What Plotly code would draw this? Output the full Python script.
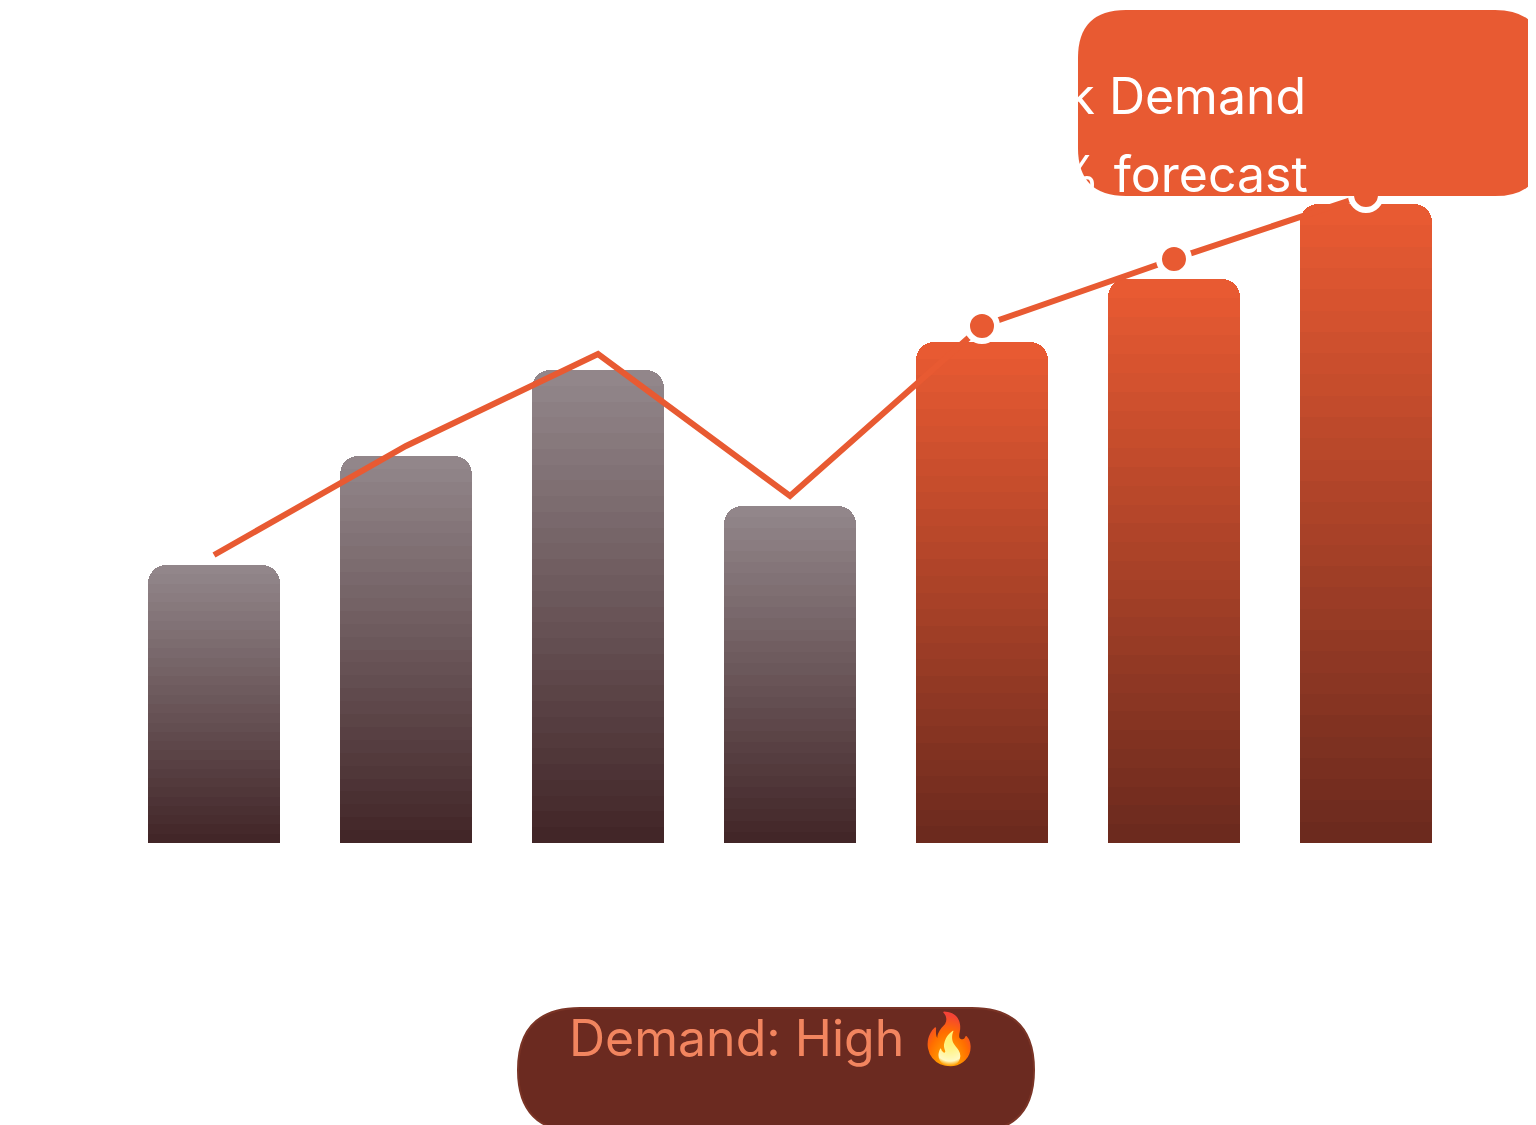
import plotly.graph_objects as go
import numpy as np

periods = ["Q1", "Q2", "Q3", "Q4", "Q5", "Q6", "Q7"]
demand = [55.6, 77.4, 94.6, 67.4, 100.2, 112.8, 127.8]
trend = [57.6, 79.4, 97.8, 69.4, 103.4, 116.8, 129.6]
is_forecast = [False, False, False, False, True, True, True]
callout_title = "Peak Demand"
callout_sub = "↑ 38% forecast"
badge_text = "Demand: High 🔥"

W, H = 1536, 1125
N = 30

def lerp(c1, c2, t):
    return "rgb(%d,%d,%d)" % tuple(int(round(a + (b - a) * t)) for a, b in zip(c1, c2))

grey_top, grey_bot = (146, 134, 138), (66, 38, 40)
org_top, org_bot = (232, 90, 50), (108, 42, 30)

fig = go.Figure()
xs = list(range(len(periods)))
for k in range(N):
    t = k / (N - 1)
    cols = [lerp(org_bot, org_top, t) if f else lerp(grey_bot, grey_top, t) for f in is_forecast]
    fig.add_bar(x=xs, y=[d / N for d in demand], marker=dict(color=cols, line_width=0),
                width=0.69, showlegend=False, hoverinfo="skip")

fig.add_scatter(x=xs, y=trend, mode="lines", line=dict(color="#e85a32", width=6), showlegend=False)
fx = [x for x, f in zip(xs, is_forecast) if f]
fy = [y for y, f in zip(trend, is_forecast) if f]
fig.add_scatter(x=fx, y=fy, mode="markers",
                marker=dict(color="#e85a32", size=30, line=dict(color="white", width=6)), showlegend=False)

def rrect(x0, y0, x1, y1, r):
    # paper coords in pixels -> fraction
    def p(x, y):
        return f"{x / W:.5f},{1 - y / H:.5f}"
    rx, ry = r / W, r / H
    return (f"M {p(x0 + r, y0)} L {p(x1 - r, y0)} Q {p(x1, y0)} {p(x1, y0 + r)} "
            f"L {p(x1, y1 - r)} Q {p(x1, y1)} {p(x1 - r, y1)} L {p(x0 + r, y1)} "
            f"Q {p(x0, y1)} {p(x0, y1 - r)} L {p(x0, y0 + r)} Q {p(x0, y0)} {p(x0 + r, y0)} Z")

fig.add_shape(type="path", xref="paper", yref="paper", path=rrect(1070, 2, 1535, 188, 48),
              fillcolor="#e85a32", line=dict(width=0), layer="above")
fig.add_shape(type="path", xref="paper", yref="paper", path=rrect(510, 1000, 1026, 1124, 62),
              fillcolor="#6b2a20", line=dict(color="#7a3426", width=2), layer="above")

fig.add_annotation(xref="paper", yref="paper", x=1300 / W, y=1 - 56 / H, text=callout_title,
                   showarrow=False, font=dict(size=50, color="white", family="Inter"))
fig.add_annotation(xref="paper", yref="paper", x=1302 / W, y=1 - 134 / H, text=callout_sub,
                   showarrow=False, font=dict(size=50, color="white", family="Inter"))
fig.add_annotation(xref="paper", yref="paper", x=766 / W, y=1 - 1062 / H, text=badge_text,
                   showarrow=False, font=dict(size=50, color="#f2855f", family="Inter"))

fig.update_layout(
    width=W, height=H, barmode="stack", bargap=0,
    margin=dict(l=0, r=0, t=0, b=0),
    paper_bgcolor="white", plot_bgcolor="white",
    xaxis=dict(range=[-206 / 192, (W - 206) / 192], visible=False),
    yaxis=dict(range=[-290 / 5, 835 / 5], visible=False),
)
fig.update_traces(marker_cornerradius=18, selector=dict(type="bar"))
fig.write_html("out.html")
